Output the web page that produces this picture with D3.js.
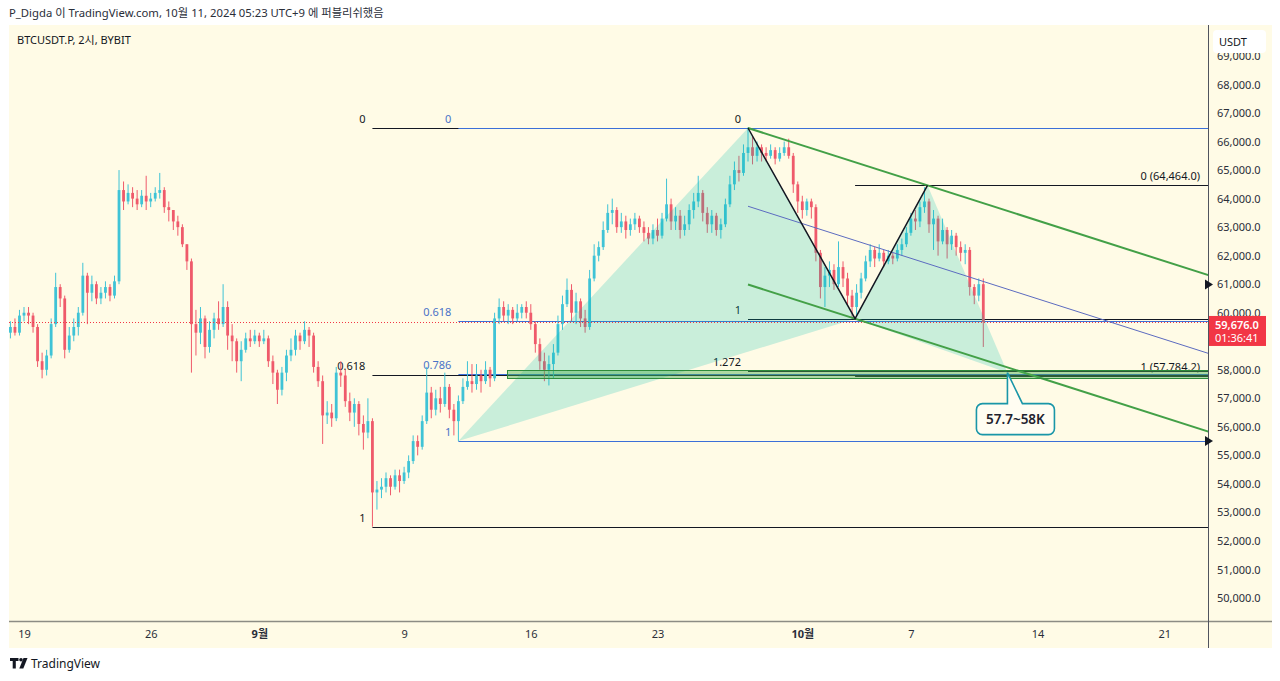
<!DOCTYPE html>
<html><head><meta charset="utf-8">
<script src="https://cdn.jsdelivr.net/npm/d3@7"></script>
<style>
body{margin:0;background:#fff;}
svg{display:block;font-family:"Noto Sans","Noto Sans CJK KR",sans-serif;}
</style>
</head><body>
<svg id="c" width="1280" height="681"></svg>
<script>
// ---------- DATA (prices in thousands USDT, 6h candles from 2024-08-18 06:00 UTC+9) ----------
const candleStart = "2024-08-18T06:00";
const firstOpen = 59.3;
const closes = [
59.5,59.3,59.9,60.0,59.9,59.5,58.3,58.0,58.5,59.6,
60.9,60.5,58.7,59.2,59.5,60.0,61.3,60.7,61.0,60.5,
60.7,60.9,60.6,61.1,64.3,63.9,64.2,64.0,63.8,64.1,
63.9,64.0,64.2,64.3,63.7,63.6,63.2,63.0,62.4,61.8,
59.6,59.3,59.8,58.8,59.4,59.8,59.6,60.2,59.2,59.0,
58.3,58.7,59.1,59.0,59.2,59.0,59.1,58.3,57.9,57.3,
57.9,58.5,58.7,59.2,59.0,59.4,59.2,58.1,57.6,56.4,
56.5,56.3,57.9,57.8,56.9,56.5,56.8,56.1,55.8,56.2,
53.7,53.8,53.9,54.2,53.9,54.3,54.1,54.4,54.8,55.5,
55.3,56.2,57.2,56.6,57.0,56.8,57.4,56.6,56.2,56.9,
57.4,57.6,57.5,57.8,57.6,58.0,57.7,59.8,60.2,59.9,
60.1,59.8,60.0,60.2,60.0,59.6,58.9,58.3,58.0,58.2,
58.6,59.6,60.3,60.8,60.0,60.4,59.8,59.5,61.2,62.0,
62.3,62.9,63.5,63.6,63.0,63.2,62.9,63.1,63.3,63.0,
62.8,62.6,62.9,62.7,63.3,63.8,63.2,63.4,62.9,63.1,
63.6,63.9,64.2,63.5,63.1,63.4,62.9,63.1,63.8,64.5,
65.0,64.9,65.6,65.8,65.5,65.8,65.6,65.5,65.7,65.4,
65.6,65.8,65.5,64.5,63.9,63.6,63.9,63.7,62.1,60.9,
61.3,61.5,61.0,61.6,61.2,60.6,60.2,60.7,61.2,61.8,
62.2,61.9,62.1,61.8,62.0,61.9,62.2,62.4,62.8,63.3,
63.2,63.7,63.9,63.1,63.3,62.5,62.9,62.4,62.7,62.3,
62.1,62.2,60.9,60.6,61.0,59.676];
const highs = [
59.7,59.8,60.1,60.2,60.2,60.0,59.6,58.6,58.7,59.8,
61.4,61.0,60.6,59.5,59.8,60.2,61.75,61.4,61.3,61.1,
60.9,61.1,61.0,61.3,65.0,64.6,64.5,64.4,64.3,64.3,
64.8,64.2,64.4,64.9,64.4,63.9,63.6,63.4,63.1,62.3,
61.9,60.1,60.2,59.9,59.7,60.0,60.4,61.0,60.4,59.6,
59.1,59.0,59.3,59.4,59.4,59.3,59.4,59.2,58.5,58.0,
58.1,58.7,59.1,59.4,59.3,59.7,59.5,59.3,58.3,57.8,
56.9,56.8,58.1,58.3,58.0,57.2,57.0,56.9,56.4,57.0,
56.3,54.1,54.2,54.4,54.3,54.5,54.5,54.6,55.0,55.7,
55.7,56.4,58.1,57.4,57.3,57.4,57.9,57.5,56.8,57.1,
57.7,58.3,58.2,58.2,58.0,58.3,58.1,60.0,60.5,60.4,
60.3,60.2,60.3,60.3,60.4,60.3,59.7,59.1,58.6,58.5,
58.9,59.9,60.6,61.2,61.0,60.7,60.5,60.1,61.5,62.4,
62.5,63.2,63.8,64.0,63.7,63.5,63.4,63.3,63.5,63.4,
63.2,63.0,63.1,63.3,63.5,64.7,64.0,63.7,63.6,63.4,
63.8,64.2,64.8,64.3,63.7,63.6,63.5,63.3,64.0,64.8,
65.3,65.5,65.9,66.5,66.2,66.0,65.9,65.8,65.9,65.8,
65.8,66.0,66.1,65.6,64.6,64.1,64.0,64.0,63.8,62.2,
61.6,61.8,61.7,62.5,61.8,61.4,60.8,61.0,61.4,62.0,
62.4,62.3,62.4,62.2,62.2,62.1,62.4,62.6,63.0,63.5,
63.6,63.9,64.4,64.0,63.6,63.4,63.3,63.0,62.9,62.8,
62.5,62.4,62.3,61.0,61.2,61.2];
const lows = [
59.1,59.2,59.2,59.7,59.6,59.3,58.1,57.7,57.8,58.4,
59.5,60.2,58.4,58.6,59.0,59.2,59.9,59.6,60.4,60.3,
60.3,60.5,60.4,60.5,61.0,63.6,63.8,63.7,63.6,63.7,
63.6,63.7,63.9,64.0,63.5,63.2,62.9,62.7,62.3,61.5,
57.9,58.5,58.9,58.4,58.6,59.1,59.4,59.5,58.7,58.3,
57.9,57.6,58.6,58.8,58.9,58.8,58.9,58.1,57.5,56.8,
57.1,57.6,58.3,58.5,58.7,58.9,58.8,57.9,57.4,55.4,
56.1,56.0,56.2,57.4,56.7,56.2,56.0,55.7,55.2,55.6,
52.5,53.1,53.5,53.7,53.6,53.8,53.7,54.0,54.2,54.7,
55.0,55.2,56.1,56.3,56.4,56.5,56.7,56.3,55.7,55.5,
56.8,57.3,57.2,57.3,57.2,57.5,57.4,57.6,59.6,59.7,
59.6,59.6,59.7,59.8,59.8,59.4,58.6,58.0,57.6,57.45,
57.7,58.5,59.4,60.2,59.7,59.6,59.5,59.3,59.4,61.1,
61.8,62.2,62.8,63.1,62.8,62.8,62.6,62.7,62.9,62.8,
62.5,62.4,62.4,62.5,62.6,63.2,62.9,62.9,62.6,62.7,
62.9,63.3,63.7,63.2,62.8,62.8,62.7,62.6,63.0,63.7,
64.3,64.6,64.8,65.3,65.2,65.3,65.3,65.3,65.4,65.2,
65.3,65.5,65.4,64.2,63.5,63.3,63.4,63.3,61.8,60.5,
60.2,60.9,60.8,60.9,60.9,60.3,59.8,59.9,60.5,61.1,
61.6,61.6,61.8,61.6,61.7,61.7,61.8,62.0,62.3,62.7,
62.9,63.0,63.5,62.8,62.2,62.0,62.4,61.9,62.2,62.0,
61.8,61.7,60.6,60.3,60.4,58.8];

const priceTicks = [69000,68000,67000,66000,65000,64000,63000,62000,61000,60000,58000,57000,56000,55000,54000,53000,52000,51000,50000];
const timeTickDates = ["2024-08-19","2024-08-26","2024-09-01","2024-09-09","2024-09-16","2024-09-23","2024-10-01","2024-10-07","2024-10-14","2024-10-21"];
const timeTickLabels = ["19","26","9월","9","16","23","10월","7","14","21"];
const monthTicks = ["9월","10월"];

// drawings
const fibAStart = "2024-09-07T06:00", fibAPrices = [66475, 52475], fibALevels = [0, 0.618, 1];
const fibBStart = "2024-09-12T00:00", fibBPrices = [66475, 55500], fibBLevels = [0, 0.618, 0.786, 1];
const fibDStart = "2024-09-28T00:00", fibDPrices = [66475, 59790], fibDLevels = [0, 1, 1.272];
const fibCStart = "2024-10-03T22:00", fibCPrices = [64464, 57784.2], fibCLevels = [0, 1];
const harmonicTimes = ["2024-09-12T00:00","2024-09-28T00:00","2024-10-03T22:00","2024-10-07T22:00","2024-10-12T08:00"];
const harmonicPrices = [55500, 66475, 59790, 64464, 57900];
const zoneStart = "2024-09-14T16:00", zonePrices = [58000, 57700];
const calloutText = "57.7~58K";
const lastPrice = 59676, countdown = "01:36:41";
const axisMarks = [60990, 55500];

// ---------- CHART ----------
const T = s => new Date(s + (s.length <= 10 ? "T00:00" : "") + "Z");
const svg = d3.select("#c");
const L = 9, R = 1208, TOP = 25, BOT = 621, CARD_R = 1272, CARD_B = 648;
const x = d3.scaleUtc().domain([T("2024-08-19"), T("2024-10-21")]).range([24, 1164.3]);
const y = d3.scaleLinear().domain([50000, 68000]).range([598, 84.5]);
const crisp = v => Math.round(v) + 0.5;
const fmt = d3.format(",.1f");

svg.append("rect").attr("width",1280).attr("height",681).attr("fill","#fff");
svg.append("rect").attr("x",L).attr("y",TOP).attr("width",CARD_R-L).attr("height",CARD_B-TOP).attr("fill","#fffbe6");

svg.append("text").attr("x",9).attr("y",17).attr("font-size",11.3).attr("fill","#2a2e39")
  .text("P_Digda 이 TradingView.com, 10월 11, 2024 05:23 UTC+9 에 퍼블리쉬했음");

svg.append("defs").append("clipPath").attr("id","plot").append("rect")
  .attr("x",L).attr("y",TOP).attr("width",R-L).attr("height",BOT-TOP);
const g = svg.append("g").attr("clip-path","url(#plot)");

// fib helper
function fib(start, prices, levels, color, labelColor, labelMode){
  const x0 = x(T(start));
  levels.forEach(lv => {
    const p = prices[0] - lv*(prices[0]-prices[1]);
    const yy = crisp(y(p));
    g.append("line").attr("x1",x0).attr("x2",R).attr("y1",yy).attr("y2",yy)
      .attr("stroke",color).attr("stroke-width",1);
    const t = g.append("text").attr("font-size",11).attr("fill",labelColor).attr("y",yy-6);
    if(labelMode==="left") t.attr("x",x0-7).attr("text-anchor","end").text(String(lv));
    else t.attr("x",R-8).attr("text-anchor","end").text(lv+" ("+fmt(p)+")");
  });
}
fib(fibAStart, fibAPrices, fibALevels, "#131722", "#131722", "left");
fib(fibDStart, fibDPrices, fibDLevels, "#131722", "#131722", "left");
fib(fibCStart, fibCPrices, fibCLevels, "#131722", "#131722", "right");
fib(fibBStart, fibBPrices, fibBLevels, "#3b6fd8", "#4a72c8", "left");

// candles
const t0 = T(candleStart).getTime();
const candles = closes.map((c,i)=>{
  const o = i ? closes[i-1] : firstOpen;
  return {t:new Date(t0 + i*6*3600e3), o:o*1000, c:c*1000,
          h:Math.max(highs[i],o,c)*1000, l:Math.min(lows[i],o,c)*1000};
});
const UP="#3fc3d6", DN="#ef5a6b";
const cg = g.append("g");
cg.selectAll("line").data(candles).join("line")
  .attr("x1",d=>x(d.t)).attr("x2",d=>x(d.t)).attr("y1",d=>y(d.h)).attr("y2",d=>y(d.l))
  .attr("stroke",d=>d.c>=d.o?UP:DN).attr("stroke-width",1);
cg.selectAll("rect").data(candles).join("rect")
  .attr("x",d=>x(d.t)-1.4).attr("width",2.8)
  .attr("y",d=>y(Math.max(d.o,d.c)))
  .attr("height",d=>Math.max(1,Math.abs(y(d.o)-y(d.c))))
  .attr("fill",d=>d.c>=d.o?UP:DN);

// harmonic pattern shading
const hp = harmonicTimes.map((t,i)=>[x(T(t)), y(harmonicPrices[i])]);
const line = d3.line();
g.append("path").attr("d", line([hp[0],hp[1],hp[2]])+"Z").attr("fill","rgba(0,190,175,0.21)");
g.append("path").attr("d", line([hp[2],hp[3],hp[4]])+"Z").attr("fill","rgba(0,190,175,0.21)");

// price line (dotted)
g.append("line").attr("x1",L).attr("x2",R).attr("y1",crisp(y(lastPrice))).attr("y2",crisp(y(lastPrice)))
  .attr("stroke","#f23645").attr("stroke-width",1).attr("stroke-dasharray","1,2");

// parallel channel from A–C, through B
const tA = T(harmonicTimes[1]).getTime(), tC = T(harmonicTimes[3]).getTime(), tB = T(harmonicTimes[2]).getTime();
const slope = (harmonicPrices[3]-harmonicPrices[1])/(tC-tA);
const tEnd = x.invert(R+40).getTime();
const upperAt = t => harmonicPrices[1] + slope*(t-tA);
const lowerAt = t => harmonicPrices[2] + slope*(t-tB);
const chan = (f,col,w)=> g.append("line")
  .attr("x1",x(new Date(tA))).attr("y1",y(f(tA))).attr("x2",x(new Date(tEnd))).attr("y2",y(f(tEnd)))
  .attr("stroke",col).attr("stroke-width",w);
chan(upperAt,"#43a047",2);
chan(lowerAt,"#43a047",2);
chan(t=>(upperAt(t)+lowerAt(t))/2,"#5c6bc0",1);

// zigzag A-B-C
g.append("path").attr("d", line([hp[1],hp[2],hp[3]])).attr("fill","none")
  .attr("stroke","#131722").attr("stroke-width",1.5);

// target zone
{
  const zy0 = crisp(y(zonePrices[0])), zy1 = crisp(y(zonePrices[1]));
  g.append("rect").attr("x",crisp(x(T(zoneStart)))).attr("width",R-x(T(zoneStart)))
    .attr("y",zy0).attr("height",zy1-zy0)
    .attr("fill","rgba(76,175,80,0.45)").attr("stroke","#2e8b3a").attr("stroke-width",1);
}

// callout
{
  const [dx,dy] = hp[4];
  const bx0 = dx-31, bx1 = dx+47, by0 = dy+31, by1 = dy+62, r = 6;
  const p = d3.path();
  p.moveTo(bx0+r,by0); p.lineTo(dx,by0); p.lineTo(dx,dy); p.lineTo(dx+15,by0); p.lineTo(bx1-r,by0);
  p.arcTo(bx1,by0,bx1,by0+r,r); p.lineTo(bx1,by1-r); p.arcTo(bx1,by1,bx1-r,by1,r);
  p.lineTo(bx0+r,by1); p.arcTo(bx0,by1,bx0,by1-r,r); p.lineTo(bx0,by0+r); p.arcTo(bx0,by0,bx0+r,by0,r); p.closePath();
  g.append("path").attr("d",p.toString()).attr("fill","#fffdf2").attr("stroke","#1996a8").attr("stroke-width",1.6);
  g.append("text").attr("x",(bx0+bx1)/2).attr("y",(by0+by1)/2+5).attr("text-anchor","middle")
    .attr("font-size",13.5).attr("font-weight",600).attr("fill","#1e222d").text(calloutText);
}

// symbol
svg.append("text").attr("x",17).attr("y",44).attr("font-size",11).attr("fill","#131722").text("BTCUSDT.P, 2시, BYBIT");

// axes
const yAxis = d3.axisRight(y).tickValues(priceTicks).tickFormat(fmt).tickSize(0).tickPadding(9);
const ya = svg.append("g").attr("transform",`translate(${R},0)`).call(yAxis);
ya.select(".domain").remove();
ya.selectAll("text").attr("font-size",11).attr("fill","#2a2e39").attr("font-family","Noto Sans");

const xAxis = d3.axisBottom(x).tickValues(timeTickDates.map(T)).tickFormat((d,i)=>timeTickLabels[i]).tickSize(0).tickPadding(9);
const xa = svg.append("g").attr("transform",`translate(0,${BOT})`).call(xAxis);
xa.select(".domain").remove();
xa.selectAll("text").attr("font-size",11).attr("fill","#2a2e39").attr("font-family",'"Noto Sans","Noto Sans CJK KR"')
  .attr("font-weight",(d,i)=>monthTicks.includes(timeTickLabels[i])?700:400);

// borders
svg.append("line").attr("x1",L).attr("x2",CARD_R).attr("y1",BOT+0.5).attr("y2",BOT+0.5).attr("stroke","#8c8c84").attr("stroke-width",1.5);
svg.append("line").attr("x1",R+0.5).attr("x2",R+0.5).attr("y1",TOP).attr("y2",CARD_B).attr("stroke","#50535e").attr("stroke-width",1);

// axis marks
axisMarks.forEach(p=>{
  const yy = y(p);
  svg.append("path").attr("d",`M${R-3},${yy-5}L${R+5},${yy}L${R-3},${yy+5}Z`).attr("fill","#131722");
});

// USDT badge
svg.append("rect").attr("x",1213).attr("y",30).attr("width",53).attr("height",23).attr("rx",4).attr("fill","#fff");
svg.append("text").attr("x",1219).attr("y",46).attr("font-size",11).attr("fill","#131722").text("USDT");

// last price badge
{
  const yy = y(lastPrice);
  svg.append("rect").attr("x",R+1).attr("y",yy-6).attr("width",57).attr("height",30).attr("fill","#f23645");
  svg.append("text").attr("x",R+7).attr("y",yy+7.5).attr("font-size",11).attr("font-weight",600).attr("fill","#fff").text(fmt(lastPrice));
  svg.append("text").attr("x",R+7).attr("y",yy+20.5).attr("font-size",11).attr("fill","#fff").text(countdown);
}

// footer logo
const f = svg.append("g");
f.append("path").attr("d","M10,658h8.5v3h-2.7v7.5h-3.1v-7.5h-2.7z").attr("fill","#131722");
f.append("circle").attr("cx",21).attr("cy",659.8).attr("r",1.8).attr("fill","#131722");
f.append("path").attr("d","M23.5,658h4l-4.2,10.5h-4z").attr("fill","#131722");
f.append("text").attr("x",31).attr("y",667.5).attr("font-size",12).attr("fill","#131722").text("TradingView");
</script>
</body></html>
